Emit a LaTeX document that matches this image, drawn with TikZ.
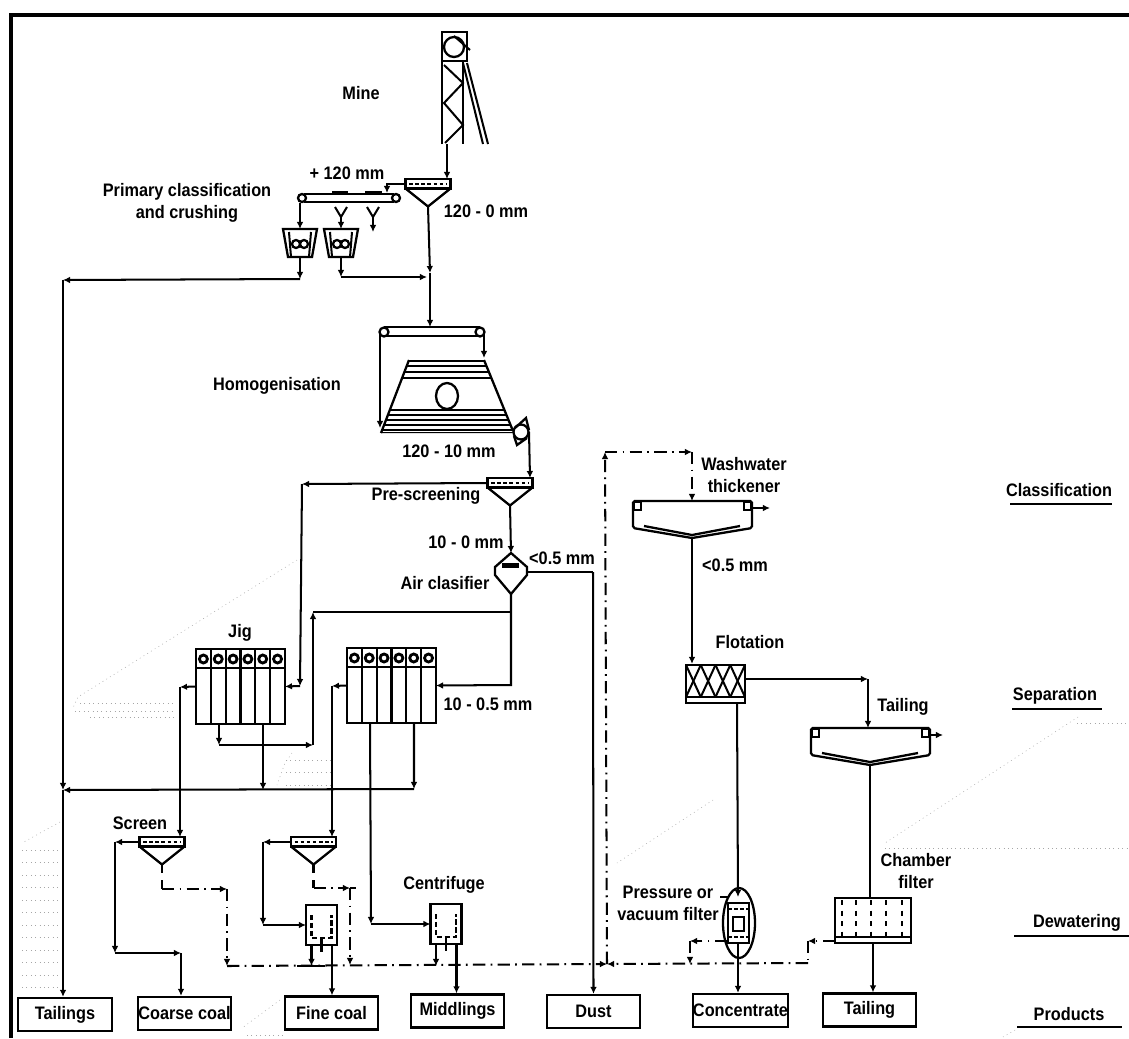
\documentclass[tikz,border=0pt]{standalone}
\usepackage{fontspec}
\setmainfont[FakeStretch=0.9]{Liberation Sans}
\usepackage{xcolor}
\usepackage{tikz}
\usetikzlibrary{arrows.meta,shapes.geometric}

\tikzset{
	unit/.style={line width=1.3pt},
	pipe/.style={line width=1.15pt},
	pipetip/.style={pipe,-{Latex[length=4pt,width=3.8pt]}},
	wash/.style={line width=1.15pt,dash pattern=on 7pt off 3pt on 1pt off 3pt},
	washtip/.style={wash,-{Latex[length=4pt,width=3.8pt]}},
	scan/.style={gray!70,line width=.3pt,dash pattern=on .5pt off 2pt},
	lab/.style={font=\fontsize{10.3}{12.5}\selectfont\bfseries,inner sep=0pt,align=center},
	productbox/.style={draw,unit,inner sep=0pt,minimum width=1.87cm,minimum height=.66cm,font=\fontsize{10.3}{11}\selectfont\bfseries},
	sievebox/.pic={
		\draw[unit] (-22.5,-5) rectangle (22.5,4.5);
		\draw[unit,dash pattern=on 2pt off 1.5pt] (-19,0) -- (19,0);
		\draw[unit] (-22.5,4.5) -- (0,22.5) -- (22.5,4.5);
		\coordinate (-top) at (0,-5);
		\coordinate (-apex) at (0,22.5);
		\coordinate (-left) at (-22.5,0);
	},
	crusherbox/.pic={
		\draw[unit] (-17,-14) -- (17,-14) -- (12,14) -- (-12,14) -- cycle;
		\draw[pipe] (-11,-11) -- (-9,14) (11,-11) -- (9,14);
		\draw[unit] (-4,1) circle[radius=4] (4,1) circle[radius=4];
		\coordinate (-top) at (0,-14);
		\coordinate (-bottom) at (0,14);
	},
	jigbox/.pic={
		\draw[unit] (-44.5,-37.5) rectangle (44.5,37.5);
		\draw[pipe] (-44.5,-19) -- (44.5,-19);
		\foreach \i in {1,...,5}
			\draw[unit] ({-44.5+14.83*\i},-37.5) -- ({-44.5+14.83*\i},37.5);
		\foreach \i in {0,...,5}
			\draw[line width=1.6pt] ({-37.1+14.83*\i},-27.5) circle[radius=4];
		\coordinate (-left) at (-44.5,0);
		\coordinate (-right) at (44.5,0);
		\coordinate (-outa) at (-21.5,37.5);
		\coordinate (-outb) at (22.5,37.5);
	},
	centribox/.pic={
		\draw[unit] (-15.5,-20) rectangle (15.5,20);
		\draw[unit,dash pattern=on 3pt off 1.5pt] (-10,-10) -- (-10,13) -- (10,13) -- (10,-10);
		\draw[pipe] (0,13) -- (0,27);
		\coordinate (-west) at (-15.5,0);
		\coordinate (-outa) at (-10,20);
		\coordinate (-outb) at (10.5,20);
	},
	thickbox/.pic={
		\draw[unit,rounded corners=1pt] (-59,0) -- (60,0) -- (60,27) -- (0,37) -- (-59,27) -- cycle;
		\draw[unit] (-48,25) -- (0,34) -- (48,25);
		\draw[unit] (-58,1) rectangle (-51,9);
		\draw[unit] (52,1) rectangle (59,9);
		\coordinate (-top) at (0,0);
		\coordinate (-apex) at (0,37);
		\coordinate (-right) at (60,7);
	}
}

\begin{document}
\begin{tikzpicture}[x=0.02cm,y=-0.02cm]

	\useasboundingbox (0,0) rectangle (1129,1038);

	\draw[line width=2.2pt] (11,1038) -- (11,15) -- (1129,15);

	\draw[scan] (297,560) -- (78,697) -- (73,708);
	\foreach \yy/\xx in {703/80,711/75,717/90}
		\draw[scan] (\xx,\yy) -- (175,\yy);
	\draw[scan] (292,753) -- (285,763) -- (277,785);
	\foreach \yy in {760,772,785}
		\draw[scan] (286,\yy) -- (330,\yy);
	\draw[scan] (713,800) -- (617,863);
	\draw[scan] (1078,717) -- (885,843);
	\draw[scan] (1077,723) -- (1129,723);
	\draw[scan] (885,848) -- (1129,848);
	\draw[scan] (60,822) -- (22,843);
	\foreach \yy in {850,862.5,...,995}
		\draw[scan] (22,\yy) -- (60,\yy);
	\draw[scan] (280,1000) -- (242,1028);
	\draw[scan] (247,1035) -- (283,1035);
	\draw[scan] (1015,1030) -- (1003,1037);

	\node[lab] (mine) at (361,93) {Mine};
	\node[lab] (plus) at (347,173) {+ 120 mm};
	\node[lab] (primary) at (187,203) {Primary classification\\and crushing};
	\node[lab] (minus) at (486,211) {120 - 0 mm};
	\node[lab] (homog) at (277,386) {Homogenisation};
	\node[lab] (coarsesize) at (449,451) {120 - 10 mm};
	\node[lab] (prescreen) at (426,496) {Pre-screening};
	\node[lab] (finesize) at (466,542) {10 - 0 mm};
	\node[lab] (dustsize) at (562,558) {<0.5 mm};
	\node[lab] (airlab) at (445,583) {Air clasifier};
	\node[lab] (jiglab) at (240,633) {Jig};
	\node[lab] (midsize) at (488,704) {10 - 0.5 mm};
	\node[lab] (screenlab) at (140,823) {Screen};
	\node[lab] (centrilab) at (444,885) {Centrifuge};
	\node[lab] (washlab) at (744,475) {Washwater\\thickener};
	\node[lab] (slimesize) at (735,565) {<0.5 mm};
	\node[lab] (flotlab) at (750,642) {Flotation};
	\node[lab] (taillab) at (903,707) {Tailing};
	\node[lab] (chamberlab) at (916,871) {Chamber\\filter};
	\node[lab] (pressurelab) at (668,903) {Pressure or\\vacuum filter};

	\node[lab] (classif) at (1059,490) {Classification};
	\node[lab] (separ) at (1055,696) {Separation};
	\node[lab] (dewat) at (1077,923) {Dewatering};
	\node[lab] (produ) at (1069,1014) {Products};
	\draw[unit] (1010,504) -- (1112,504);
	\draw[unit] (1012,709) -- (1102,709);
	\draw[unit] (1014,936) -- (1129,936);
	\draw[unit] (1017,1027) -- (1122,1027);

	\node[productbox] (tailings) at (65,1014.5) {Tailings};
	\node[productbox] (coarse) at (184.5,1013.5) {Coarse coal};
	\node[productbox] (fine) at (331.5,1013) {Fine coal};
	\node[productbox] (middlings) at (457.5,1011) {Middlings};
	\node[productbox] (dust) at (593.5,1011.5) {Dust};
	\node[productbox] (concentrate) at (740.5,1010.5) {Concentrate};
	\node[productbox] (tailing) at (869.5,1010) {Tailing};

	\draw[unit] (442,144) -- (442,32) -- (467,32) -- (467,61) -- (442,61);
	\draw[unit] (454,47) circle[radius=10];
	\draw[pipe] (454,36) -- (470,50);
	\draw[pipe] (463,61) -- (463,144);
	\draw[pipe] (444,65) -- (463,83) -- (444,103) -- (463,125) -- (445,143);
	\draw[pipe] (463,63) -- (483,144);
	\draw[pipe] (467,63) -- (488,144);
	\coordinate (minefoot) at (447,144);

	\pic (sa) at (428,184) {sievebox};
	\pic (sb) at (510,483) {sievebox};
	\pic (sc) at (162,842) {sievebox};
	\pic (sd) at (313.5,842) {sievebox};
	\pic (cra) at (300,243) {crusherbox};
	\pic (crb) at (341,243) {crusherbox};
	\pic (jiga) at (240.5,686.5) {jigbox};
	\pic (jigb) at (391.5,685.5) {jigbox};
	\pic (cfa) at (321.5,925) {centribox};
	\pic (cfb) at (446,924) {centribox};
	\pic (tha) at (692,501) {thickbox};
	\pic (thb) at (870,728) {thickbox};

	\draw[unit] (304,194) -- (394,194) (304,202) -- (394,202);
	\draw[unit] (302,198) circle[radius=4] (396,198) circle[radius=4];
	\draw[line width=2pt] (332,192.5) -- (348,192.5) (365,192.5) -- (382,192.5);
	\coordinate (beltin) at (387,193);
	\coordinate (beltl) at (300,203);

	\draw[pipe] (335,207) -- (341,217) -- (347,207);
	\draw[pipe] (367,207) -- (373,217) -- (379,207);
	\coordinate (ya) at (341,217);
	\coordinate (yb) at (373,217);
	\coordinate (yend) at (373,232);

	\draw[unit] (384,327) -- (480,327) (384,336) -- (480,336);
	\draw[unit] (384,332) circle[radius=4.5] (480,332) circle[radius=4.5];
	\coordinate (hopin) at (430,327);
	\coordinate (hopl) at (380,333);
	\coordinate (hopr) at (484,333);
	\coordinate (hoplend) at (380,428);
	\coordinate (hoprend) at (484,358);

	\begin{scope}
		\clip (409,360) -- (484,360) -- (513,433) -- (381,433) -- cycle;
		\foreach \yy in {360.5,366,372,378,410,415,420,425,430,433}
			\draw[line width=1.6pt] (375,\yy) -- (520,\yy);
	\end{scope}
	\draw[unit] (409,360) -- (381,433) (484,360) -- (513,431);
	\draw[unit] (447,396) ellipse[x radius=11,y radius=13];
	\node[circle,draw,unit,inner sep=0pt,minimum size=.3cm] (wheel) at (521,432) {};
	\draw[unit] (515,428) -- (526,418) -- (529,430);
	\draw[unit] (514,436) -- (517,445) -- (527,438);
	\coordinate (wheelout) at (529,432);
	\coordinate (sbin) at (530,478);

	\draw[unit] (511,553) -- (527,567) -- (527,575) -- (511,594) -- (495,575) -- (495,567) -- cycle;
	\fill (502,563) rectangle (519,568);
	\coordinate (airtop) at (511,553);
	\coordinate (airright) at (527,572);
	\coordinate (airbottom) at (511,594);

	\node[draw,unit,inner sep=0pt,minimum width=1.18cm,minimum height=.76cm] (flotation) at (715.5,684) {};
	\draw[unit] (686,697) -- (745,697);
	\foreach \i in {0,1,2,3}{
		\draw[pipe] ({686+14.75*\i},665) -- ({686+14.75*(\i+1)},697);
		\draw[pipe] ({686+14.75*(\i+1)},665) -- ({686+14.75*\i},697);
	}

	\node[ellipse,draw,unit,inner sep=0pt,minimum width=.64cm,minimum height=1.4cm] (pfilter) at (739,923) {};
	\draw[unit] (728,903) -- (728,943) -- (749,943) -- (749,903) -- cycle;
	\draw[unit,dash pattern=on 2pt off 1.5pt] (728,909) -- (749,909) (728,937) -- (749,937);
	\draw[unit] (733,917) rectangle (744,931);
	\coordinate (pin) at (738,897);
	\coordinate (pout) at (738,943);
	\coordinate (pleft) at (727,941);

	\node[draw,unit,inner sep=0pt,minimum width=1.52cm,minimum height=.9cm] (chamber) at (873,920.5) {};
	\draw[unit] (835,937) -- (911,937);
	\foreach \xx in {842,856,871,886,902}
		\draw[pipe,dashed] (\xx,900) -- (\xx,936);

	\coordinate (leadera) at (720,897);
	\coordinate (leaderb) at (728,897);
	\draw[pipe] (leadera) -- (leaderb);

	\coordinate (crabend) at (300,279);
	\coordinate (leftbus) at (63,280);
	\coordinate (crbbend) at (341,277);
	\coordinate (joina) at (427,277);
	\coordinate (joinb) at (430,273);
	\coordinate (busleft) at (63,790);
	\coordinate (busright) at (414,789);
	\coordinate (prea) at (302,484);
	\coordinate (preb) at (300,686);
	\coordinate (airbend) at (511,685);
	\coordinate (airjoin) at (511,612);
	\coordinate (dustbend) at (593,572);
	\coordinate (jra) at (219,745);
	\coordinate (jrb) at (313,745);
	\coordinate (jrc) at (313,612);
	\coordinate (jiglefta) at (180,687);
	\coordinate (jigleftb) at (332,686);
	\coordinate (scb) at (115,842);
	\coordinate (scc) at (115,953);
	\coordinate (scd) at (181,953);
	\coordinate (sce) at (162,873);
	\coordinate (scf) at (162,880);
	\coordinate (scg) at (162,889);
	\coordinate (sch) at (227,889);
	\coordinate (sci) at (227,966);
	\coordinate (sdb) at (263,842);
	\coordinate (sdc) at (263,925);
	\coordinate (sde) at (313.5,873);
	\coordinate (sdf) at (313.5,880);
	\coordinate (sdg) at (313.5,888);
	\coordinate (sdh) at (350,888);
	\coordinate (sdi) at (356,888);
	\coordinate (sdj) at (350,965);
	\coordinate (midbend) at (371,924);
	\coordinate (washjoin) at (607,964);
	\coordinate (buseast) at (808,963);
	\coordinate (washa) at (605,452);
	\coordinate (washb) at (692,452);
	\coordinate (pbend) at (690,941);
	\coordinate (pjoin) at (690,964);
	\coordinate (cbend) at (808,941);
	\coordinate (cleft) at (835,941);
	\coordinate (flotout) at (745,679);
	\coordinate (flotbend) at (868,679);
	\coordinate (flotdown) at (737,703);
	\coordinate (thaout) at (770,508);
	\coordinate (thbout) at (943,735);
	\coordinate (thickb) at (297,966);
	\coordinate (thicke) at (325,966);

	\draw[pipetip] (minefoot) -- (sa-top -| minefoot);
	\draw[pipetip] (sa-left) -| (beltin);
	\draw[pipetip] (beltl) -- (cra-top);
	\draw[pipetip] (ya) -- (crb-top);
	\draw[pipetip] (yb) -- (yend);
	\draw[pipetip] (cra-bottom) -- (crabend);
	\draw[pipetip] (crabend) -- (leftbus);
	\draw[pipetip] (crb-bottom) -- (crbbend);
	\draw[pipetip] (crbbend) -- (joina);
	\draw[pipetip] (sa-apex) -- (joinb);
	\draw[pipetip] (joinb) -- (hopin);
	\draw[pipetip] (hopl) -- (hoplend);
	\draw[pipetip] (hopr) -- (hoprend);
	\draw[pipetip] (wheelout) -- (sbin);
	\draw[pipetip] (sb-left) -- (prea);
	\draw[pipetip] (prea) -- (preb);
	\draw[pipetip] (preb) -- (jiga-right);
	\draw[pipetip] (sb-apex) -- (airtop);
	\draw[pipe] (airright) -- (dustbend);
	\draw[pipetip] (dustbend) -- (dust.north);
	\draw[pipetip] (airbottom) -- (airbend) -- (jigb-right);
	\draw[pipe] (airjoin) -- (jrc);
	\draw[pipetip] (jiga-outa) -- (jra);
	\draw[pipetip] (jra) -- (jrb);
	\draw[pipetip] (jrb) -- (jrc);
	\draw[pipetip] (jiga-outb) -- (jiga-outb |- busleft);
	\draw[pipetip] (jigb-outb) -- (busright);
	\draw[pipetip] (busright) -- (busleft);
	\draw[pipetip] (leftbus) -- (busleft);
	\draw[pipetip] (busleft) -- (tailings.north -| busleft);
	\draw[pipetip] (jiga-left) -- (jiglefta);
	\draw[pipetip] (jiglefta) -- (sc-top -| jiglefta);
	\draw[pipetip] (sc-left) -- (scb);
	\draw[pipetip] (scb) -- (scc);
	\draw[pipetip] (scc) -- (scd);
	\draw[pipetip] (scd) -- (coarse.north -| scd);
	\draw[pipe] (sc-apex) -- (sce);
	\draw[pipe] (scf) -- (scg);
	\draw[washtip] (scg) -- (sch);
	\draw[washtip] (sch) -- (sci);
	\draw[pipetip] (jigb-left) -- (jigleftb);
	\draw[pipetip] (jigleftb) -- (sd-top -| jigleftb);
	\draw[pipetip] (sd-left) -- (sdb);
	\draw[pipetip] (sdb) -- (sdc);
	\draw[pipetip] (sdc) -- (cfa-west);
	\draw[pipe] (sd-apex) -- (sde);
	\draw[pipe] (sdf) -- (sdg);
	\draw[washtip] (sdg) -- (sdh);
	\draw[wash] (sdh) -- (sdi);
	\draw[washtip] (sdh) -- (sdj);
	\draw[pipetip] (cfa-outa) -- (cfa-outa |- sci);
	\draw[pipetip] (cfa-outb) -- (fine.north -| cfa-outb);
	\draw[pipetip] (jigb-outa) -- (midbend);
	\draw[pipetip] (midbend) -- (cfb-west);
	\draw[pipetip] (cfb-outa) -- (cfb-outa |- sci);
	\draw[pipetip] (cfb-outb) -- (middlings.north -| cfb-outb);
	\draw[washtip] (sci) -- (washjoin);
	\draw[washtip] (buseast) -- (washjoin);
	\draw[line width=1.6pt] (thickb) -- (thicke);
	\draw[washtip] (washjoin) -- (washa);
	\draw[washtip] (washa) -- (washb);
	\draw[washtip] (washb) -- (tha-top);
	\draw[pipetip] (tha-right) -- (thaout);
	\draw[pipetip] (tha-apex) -- (flotation.north -| tha-apex);
	\draw[pipetip] (flotout) -- (flotbend);
	\draw[pipetip] (flotbend) -- (thb-top -| flotbend);
	\draw[pipetip] (thb-right) -- (thbout);
	\draw[pipetip] (flotdown) -- (pin);
	\draw[pipetip] (pout) -- (concentrate.north -| pout);
	\draw[washtip] (pleft) -- (pbend);
	\draw[washtip] (pbend) -- (pjoin);
	\draw[pipe] (thb-apex) -- (chamber.north -| thb-apex);
	\draw[pipetip] (chamber.south) -- (tailing.north -| chamber.south);
	\draw[washtip] (cleft) -- (cbend);
	\draw[wash] (cbend) -- (buseast);

\end{tikzpicture}
\end{document}
